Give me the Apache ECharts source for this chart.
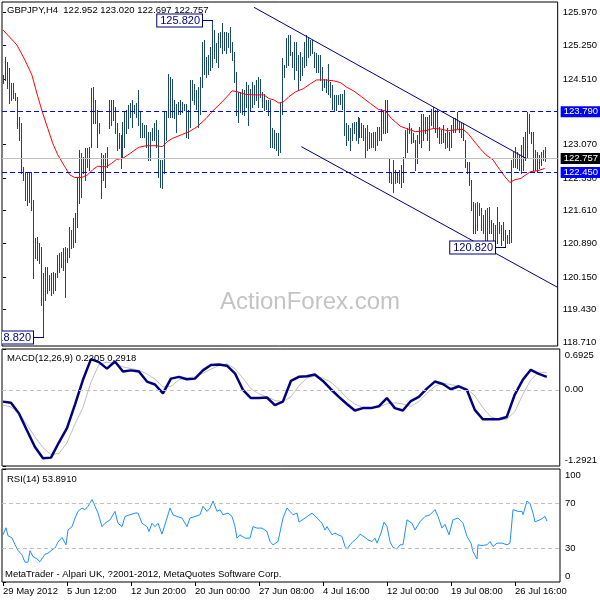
<!DOCTYPE html>
<html><head><meta charset="utf-8">
<script src="https://cdn.jsdelivr.net/npm/echarts@6/dist/echarts.min.js"></script>
<style>html,body{margin:0;padding:0;background:#fff}#c{width:600px;height:600px}</style>
</head><body><div id="c"></div>
<script>
// ---- data (H4 bars, index 0 = first bar) ----
const highs = [
124.60,124.99,124.88,124.75,124.42,124.42,124.20,124.11,123.67,123.54,
122.57,122.46,122.44,122.46,122.46,121.84,121.00,121.03,120.89,120.81,
120.24,120.37,120.37,120.19,120.24,120.26,120.24,120.63,120.68,120.70,
120.79,120.81,120.79,121.25,121.18,121.45,121.56,122.35,122.95,122.88,
122.79,122.99,122.99,123.01,124.31,124.33,124.05,123.83,123.54,122.88,
122.84,122.88,123.01,124.05,124.05,124.05,123.89,123.54,123.32,123.28,
123.56,123.78,123.83,123.94,123.98,124.05,123.94,123.98,124.27,123.79,
123.53,123.50,123.50,123.35,123.35,123.42,123.53,123.61,123.39,122.73,
122.73,123.79,123.79,124.63,124.56,124.52,124.05,123.97,124.01,124.05,
124.01,123.97,123.97,123.83,124.49,124.49,124.41,124.27,124.34,124.56,
125.33,125.37,125.00,125.04,125.22,125.82,125.59,125.30,125.52,125.55,
125.74,125.55,125.55,125.52,125.66,125.33,125.11,124.67,124.23,124.23,
124.30,124.27,124.45,124.38,124.30,124.45,124.38,124.49,124.56,124.52,
124.23,124.19,124.05,124.05,124.05,123.42,123.39,123.31,123.31,124.01,
124.97,124.82,125.41,125.48,125.48,125.11,125.33,125.33,125.04,125.11,
125.00,125.33,125.48,125.41,125.37,125.37,125.11,125.08,125.04,125.04,
124.78,124.52,124.52,124.85,124.45,124.38,124.16,124.16,124.16,124.19,
124.19,124.27,123.53,123.50,123.42,123.53,123.57,123.57,123.68,123.64,
123.53,123.50,123.42,123.50,123.35,123.31,123.35,123.35,123.46,123.46,
123.86,123.83,124.05,124.05,122.76,122.47,122.73,122.51,122.47,122.51,
122.62,122.80,123.39,123.42,123.53,123.42,123.31,123.17,123.28,123.46,
123.75,123.75,123.68,123.68,123.72,123.86,123.90,123.83,123.86,123.46,
123.39,123.50,123.31,123.42,123.35,123.50,123.64,123.64,123.79,123.57,
123.53,123.53,123.17,122.69,122.69,122.29,121.81,121.77,121.81,121.77,
121.66,121.51,121.62,121.66,121.70,121.40,121.33,121.29,121.70,121.37,
121.29,121.37,121.18,121.07,121.18,122.73,122.91,123.02,122.91,122.84,
123.06,123.24,123.35,123.79,123.75,123.35,123.35,122.95,122.91,122.84,
122.91,122.95,123.02];
const lows = [
124.42,124.49,124.31,123.98,124.05,124.09,124.05,123.43,123.17,122.44,
122.28,121.84,121.73,121.80,121.62,120.13,120.57,120.52,120.45,119.53,
118.82,119.64,119.79,119.86,119.75,119.79,119.86,120.15,120.26,120.37,
120.30,119.71,120.48,120.59,120.79,120.81,120.92,121.25,121.78,121.91,
122.44,122.28,122.57,122.50,123.01,123.54,123.54,123.01,123.32,121.89,
122.28,122.13,122.57,123.43,123.50,123.61,123.32,122.95,122.99,122.55,
122.79,123.01,123.32,123.43,123.67,123.45,123.76,123.67,123.50,123.24,
123.24,123.24,123.02,122.73,122.73,123.17,123.17,123.02,122.36,122.14,
122.10,122.43,123.17,123.68,123.68,123.68,123.64,123.35,123.75,123.75,
123.79,123.83,123.24,123.20,123.46,124.05,123.97,123.86,123.46,123.75,
124.34,124.63,124.56,124.63,124.71,124.78,124.97,124.89,124.78,125.22,
125.08,125.15,125.08,125.22,125.11,124.93,124.45,123.72,123.57,123.79,
123.75,123.72,123.90,123.50,123.83,123.90,123.97,124.05,123.90,124.12,
123.90,123.83,123.86,123.72,123.02,123.02,122.98,122.95,122.84,122.91,
123.75,124.56,124.78,124.82,125.04,124.78,124.52,124.71,124.27,124.49,
124.60,124.78,124.82,125.00,125.04,125.08,124.78,124.67,124.67,124.49,
124.27,124.34,124.23,124.19,124.12,123.86,123.83,123.83,123.97,123.97,
123.86,123.28,123.06,123.17,122.95,123.17,123.31,123.17,123.09,123.24,
123.24,123.17,122.76,122.95,122.98,123.02,123.02,122.95,123.06,123.17,
123.17,123.31,123.31,123.35,122.25,122.21,122.03,122.21,122.25,122.21,
122.14,122.25,122.80,122.91,123.31,123.09,123.13,122.51,122.65,123.09,
123.02,123.17,123.31,123.17,122.95,123.50,123.46,123.35,123.24,123.09,
123.09,123.13,122.98,123.02,122.95,123.02,123.35,123.35,123.42,123.35,
123.24,123.17,122.58,122.43,122.18,121.62,121.11,121.11,121.18,121.51,
121.18,121.11,120.96,120.96,121.11,121.11,120.96,120.96,120.89,121.11,
120.85,120.96,120.82,120.89,120.89,120.93,122.58,122.58,122.54,122.51,
122.43,122.51,122.73,122.80,123.31,123.09,122.51,122.51,122.47,122.54,
122.62,122.73,122.697];

// moving average [bar, price]
const maPoints = [[0,125.59],[7,125.26],[11,124.93],[14.5,124.60],[17.5,124.12],[20,123.75],[22.5,123.42],[25,123.09],[27.5,122.84],[31,122.58],[33.5,122.40],[36,122.34],[39.5,122.34],[42.5,122.40],[45,122.51],[47.5,122.59],[50,122.58],[52,122.58],[54.5,122.65],[57,122.74],[60,122.76],[63.5,122.86],[67,122.97],[68.5,123.01],[72,123.04],[77,123.04],[80,123.02],[82.5,123.13],[85,123.20],[89.5,123.28],[93.5,123.35],[97.5,123.46],[102,123.64],[104.5,123.77],[108.5,123.94],[112.5,124.12],[115,124.25],[117.5,124.23],[122,124.17],[126,124.16],[131,124.16],[133.5,124.08],[136,124.05],[138.5,123.98],[141,124.01],[143.5,124.12],[147,124.23],[151,124.30],[154.5,124.41],[157.5,124.49],[162,124.49],[166,124.47],[169.5,124.43],[172.5,124.33],[176,124.25],[180,124.12],[184.5,123.97],[188.5,123.84],[192,123.81],[195,123.64],[199.5,123.47],[202.5,123.42],[207,123.35],[212,123.37],[216,123.42],[219.5,123.41],[223.5,123.37],[227,123.39],[231,123.40],[233.5,123.31],[236,123.17],[239.5,122.98],[242.5,122.84],[246,122.73],[249.5,122.51],[252,122.36],[254.5,122.23],[257,122.29],[260,122.32],[262.5,122.40],[265,122.47],[268.5,122.49],[272,122.54]];

// MACD read every 4 bars
const macdStep = 4;
const macdMain = [-0.20,-0.22,-0.40,-0.69,-0.97,-1.16,-1.15,-0.89,-0.65,-0.25,0.17,0.52,0.47,0.36,0.48,0.31,0.33,0.31,0.14,0.09,-0.06,0.19,0.22,0.18,0.19,0.33,0.42,0.43,0.41,0.28,0.00,-0.14,-0.14,-0.13,-0.26,-0.20,0.15,0.22,0.23,0.26,0.15,0.01,-0.12,-0.24,-0.35,-0.31,-0.31,-0.28,-0.14,-0.31,-0.35,-0.19,-0.12,0.02,0.14,0.10,0.01,0.06,0.00,-0.34,-0.50,-0.50,-0.50,-0.46,-0.08,0.17,0.34,0.27,0.2205];
const macdSignal = [-0.26,-0.29,-0.40,-0.59,-0.80,-0.98,-1.10,-1.08,-0.90,-0.58,-0.30,0.13,0.43,0.47,0.45,0.39,0.36,0.33,0.27,0.18,0.05,0.06,0.17,0.20,0.22,0.28,0.35,0.41,0.44,0.36,0.20,0.02,-0.07,-0.12,-0.18,-0.20,-0.12,0.07,0.20,0.23,0.20,0.13,0.01,-0.14,-0.24,-0.30,-0.31,-0.29,-0.24,-0.22,-0.24,-0.28,-0.20,-0.06,0.06,0.11,0.09,0.06,0.02,-0.10,-0.30,-0.46,-0.50,-0.50,-0.37,-0.08,0.17,0.30,0.2918];

// RSI [bar, value]
const rsiPoints = [[0,41.8],[1.5,48],[2.5,41],[4.5,39],[6,33],[7.5,28],[9.5,24],[11,17.5],[12.5,17.5],[13.5,27.6],[15,22.5],[17,20.4],[18.5,18],[19.5,16.6],[21,24.6],[22.5,25.5],[24.5,28.4],[26,30],[27.5,35.3],[29.5,39.4],[30.5,40.9],[31.5,32.9],[32.5,46],[34.5,49],[36,56.6],[37.5,62.5],[39.5,65.5],[41,64],[42.5,67],[44.5,73],[46,67],[47.5,61],[49.5,49],[51,52],[53.5,55],[56,62.5],[57.5,52],[59.5,49],[61,58],[63.5,59.5],[66,61],[67.5,61],[69.5,52],[72,49],[73,44.7],[74.5,52],[76,49],[77.5,52],[79.5,42.4],[80,42],[82,56.6],[83.5,65.5],[85,59.5],[87,58],[89.5,56.6],[92,49],[93.5,56.6],[96,58],[98.5,59.5],[100,67],[102,62.5],[103.5,65.5],[105,71.7],[107,62.5],[108.5,64],[110,59.5],[112.5,61],[114.5,58],[116,49],[117,38.8],[118.5,41.8],[121,38.8],[123.5,38.8],[125,49],[127,47.7],[129.5,47.7],[132,44.7],[133.5,35.8],[135,32.9],[136,31.4],[137.5,35.8],[138.5,37.3],[140,56.6],[142,65.5],[143.5,62.5],[145,59.5],[147,61],[148,53],[151,56.6],[154.5,61],[157,56.6],[159.5,52],[161,46],[162,49],[164.5,41.8],[166,43.3],[167.5,41.8],[169.5,40.3],[171,31.4],[172,29.3],[173.5,32.9],[175,35.8],[177,38.8],[178.5,42.4],[181,39.4],[182.5,37.3],[184.5,35.8],[186,38.8],[187,34.4],[189,43.3],[190.5,53],[192,49],[193.5,35.8],[195,30.5],[197,29.3],[198.5,32.9],[200,32.9],[202,55],[204.5,52],[206,46],[207,44.7],[208.5,53.3],[211,58],[213.5,59.5],[216,64],[217.5,58],[219.5,47.7],[221,51],[223,41.8],[225,55],[227.5,56.6],[230,52],[232,40.3],[234,34.4],[235,26.9],[237,20.4],[237.5,32.9],[239.5,32.3],[242,32.9],[243.5,35.8],[245,31.4],[247,34.4],[249.5,34.4],[252,32.9],[253.5,34.4],[255,64],[257.5,62.5],[259.5,62.5],[260,59.5],[262,71.7],[263.5,69.4],[265,61],[266,53.3],[268.5,55],[271,58],[272,53.891]];

// drawn objects
const trendUpper = [[126,126.09],[262.7,122.76]];
const trendLower = [[149.8,123.02],[278.5,119.92]];
const levelLines = [123.79, 122.45];
const lastPrice = 122.757;
const extremes = [[105,125.82],[252,120.82],[20,118.82]];

// tick labels
const priceTicks = [125.970,125.250,124.510,123.790,123.070,122.330,121.610,120.890,120.150,119.430,118.710];
const macdTicks = [-1.2921, 0, 0.6925];
const rsiTicks = [0, 30, 70, 100];
const timeTickIdx = [0,32,64,96,128,160,192,224,256];
const timeTickText = ["29 May 2012","5 Jun 12:00","12 Jun 20:00","20 Jun 00:00","27 Jun 08:00","4 Jul 16:00","12 Jul 00:00","19 Jul 08:00","26 Jul 16:00"];

// ---- chart ----
const FONT = "'Liberation Sans', Arial, sans-serif";
const FS = 9.5;
const labelMap = {};
timeTickIdx.forEach((v,i)=>{ labelMap[v] = timeTickText[i]; });

const barData = highs.map((h,i)=>[i,h,lows[i]]);
const macdMainData = macdMain.map((v,k)=>[k*macdStep, v]);
const macdSigData = macdSignal.map((v,k)=>[k*macdStep, v]);

const gridBase = {left:2, width:558, show:true, borderColor:'#000', borderWidth:1, backgroundColor:'#fff'};
const xBase = {type:'value', min:-0.5, max:278.5, axisLine:{show:false}, axisTick:{show:false}, axisLabel:{show:false}, splitLine:{show:false}};
const tickStyle = {show:true, length:3, lineStyle:{color:'#000'}};
const labStyle = {color:'#000', fontSize:FS, fontFamily:FONT, margin:5};

function levelLabel(text, bg){
  return {show:true, position:'end', distance:3, formatter:()=>text, color:'#fff', backgroundColor:bg, padding:[1,2,0,3], fontSize:FS, fontFamily:FONT};
}

const chart = echarts.init(document.getElementById('c'), null, {renderer:'canvas'});
chart.setOption({
  animation:false,
  backgroundColor:'#fff',
  grid:[
    Object.assign({top:2, height:344}, gridBase),
    Object.assign({top:349, height:117}, gridBase),
    Object.assign({top:469, height:113}, gridBase)
  ],
  xAxis:[
    Object.assign({gridIndex:0}, xBase),
    Object.assign({gridIndex:1}, xBase),
    Object.assign({}, xBase, {gridIndex:2,
      axisTick:{show:true, customValues:timeTickIdx, length:4, lineStyle:{color:'#000'}},
      axisLabel:Object.assign({show:true, customValues:timeTickIdx, formatter:v=>labelMap[v]||'', align:'left'}, labStyle, {margin:4})
    })
  ],
  yAxis:[
    {gridIndex:0, type:'value', position:'right', min:118.629, max:126.206, axisLine:{show:false}, splitLine:{show:false},
      axisTick:Object.assign({customValues:priceTicks}, tickStyle),
      axisLabel:Object.assign({customValues:priceTicks, formatter:v=>v.toFixed(3)}, labStyle)},
    {gridIndex:1, type:'value', position:'right', min:-1.2921, max:0.6925, axisLine:{show:false}, splitLine:{show:false},
      axisTick:Object.assign({customValues:macdTicks}, tickStyle),
      axisLabel:Object.assign({customValues:macdTicks, formatter:v=> v===0?'0.00':(v>0?'{t|'+v.toFixed(4)+'}':'{b|'+v.toFixed(4)+'}'),
        rich:{t:{padding:[12,0,0,0], fontSize:FS, fontFamily:FONT, color:'#000'}, b:{padding:[0,0,12,0], fontSize:FS, fontFamily:FONT, color:'#000'}}}, labStyle)},
    {gridIndex:2, type:'value', position:'right', min:0, max:100, axisLine:{show:false}, splitLine:{show:false},
      axisTick:Object.assign({customValues:rsiTicks}, tickStyle),
      axisLabel:Object.assign({customValues:rsiTicks, formatter:v=> v===100?'{t|100}':(v===0?'{b|0}':String(v)),
        rich:{t:{padding:[12,0,0,0], fontSize:FS, fontFamily:FONT, color:'#000'}, b:{padding:[0,0,12,0], fontSize:FS, fontFamily:FONT, color:'#000'}}}, labStyle)}
  ],
  graphic:[
    {type:'text', left:7, top:5, z:10, style:{text:'GBPJPY,H4  122.952 123.020 122.697 122.757', font:FS+'px '+FONT, fill:'#000'}},
    {type:'text', left:7, top:353, z:10, style:{text:'MACD(12,26,9) 0.2205 0.2918', font:FS+'px '+FONT, fill:'#000'}},
    {type:'text', left:7, top:474, z:10, style:{text:'RSI(14) 53.8910', font:FS+'px '+FONT, fill:'#000'}},
    {type:'text', left:5, top:569, z:10, style:{text:'MetaTrader - Alpari UK, ?2001-2012, MetaQuotes Software Corp.', font:FS+'px '+FONT, fill:'#000'}},
    {type:'text', left:220, top:290, z:1, style:{text:'ActionForex.com', font:'24px '+FONT, fill:'#c4c4c4'}}
  ],
  series:[
    {type:'custom', xAxisIndex:0, yAxisIndex:0, data:barData, encode:{x:0, y:[1,2]}, z:3,
      renderItem:function(params, api){
        const a = api.coord([api.value(0), api.value(1)]);
        const b = api.coord([api.value(0), api.value(2)]);
        const x = Math.round(a[0]) + 0.5;
        return {type:'line', shape:{x1:x, y1:Math.round(a[1]), x2:x, y2:Math.round(b[1])+1}, style:{stroke:'#1b4863', lineWidth:1}};
      }},
    {type:'line', xAxisIndex:0, yAxisIndex:0, data:maPoints, symbol:'none', z:4, lineStyle:{color:'#ff0000', width:1},
      markLine:{silent:true, symbol:'none', animation:false,
        data:[
          {yAxis:levelLines[0], lineStyle:{color:'#0000ff', type:[5,3], width:1}, label:levelLabel(levelLines[0].toFixed(3), '#0000ff')},
          {yAxis:levelLines[1], lineStyle:{color:'#0000ff', type:[5,3], width:1}, label:levelLabel(levelLines[1].toFixed(3), '#0000ff')},
          {yAxis:lastPrice, lineStyle:{color:'#c0c0c0', type:'solid', width:1}, label:levelLabel(lastPrice.toFixed(3), '#000')}
        ]}},
    {type:'line', xAxisIndex:0, yAxisIndex:0, data:trendUpper, symbol:'none', z:5, lineStyle:{color:'#000080', width:1}},
    {type:'line', xAxisIndex:0, yAxisIndex:0, data:trendLower, symbol:'none', z:5, lineStyle:{color:'#000080', width:1}},
    {type:'custom', xAxisIndex:0, yAxisIndex:0, data:extremes, encode:{x:0, y:1}, z:6, clip:true,
      renderItem:function(params, api){
        const c = api.coord([api.value(0), api.value(1)]);
        const y = Math.round(c[1]) + 0.5;
        const xr = Math.round(c[0]) - 10;
        return {type:'group', children:[
          {type:'line', shape:{x1:xr, y1:y, x2:Math.round(c[0])+1, y2:y}, style:{stroke:'#000080', lineWidth:1}},
          {type:'text', x:xr, y:y, style:{text:api.value(1).toFixed(3), align:'right', verticalAlign:'middle', fill:'#000080',
            font:'11px '+FONT, backgroundColor:'#fff', borderColor:'#000080', borderWidth:1, padding:[1,2,0,3]}}
        ]};
      }},
    {type:'line', xAxisIndex:1, yAxisIndex:1, data:macdSigData, symbol:'none', z:3, lineStyle:{color:'#c0c0c0', width:1},
      markLine:{silent:true, symbol:'none', label:{show:false}, lineStyle:{color:'#c0c0c0', type:[4,3], width:1}, data:[{yAxis:0}]}},
    {type:'line', xAxisIndex:1, yAxisIndex:1, data:macdMainData, symbol:'none', z:4, lineStyle:{color:'#000080', width:2.5}},
    {type:'line', xAxisIndex:2, yAxisIndex:2, data:rsiPoints, symbol:'none', z:4, lineStyle:{color:'#1e90ff', width:1},
      markLine:{silent:true, symbol:'none', label:{show:false}, lineStyle:{color:'#c0c0c0', type:[4,3], width:1}, data:[{yAxis:30},{yAxis:70}]}}
  ]
});
</script></body></html>
